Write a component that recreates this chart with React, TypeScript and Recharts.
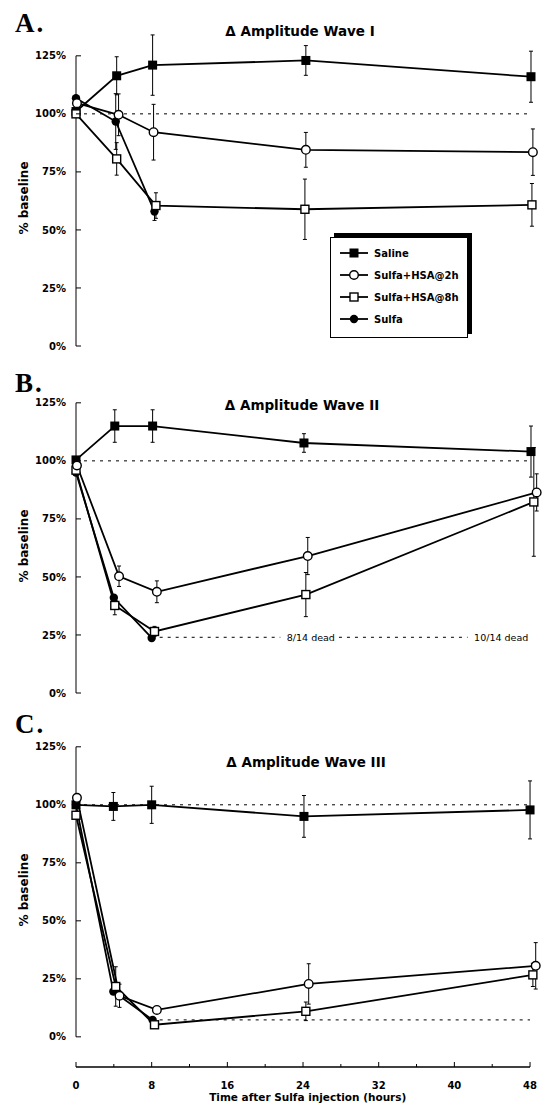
import React from 'react'
import { LineChart, Line, XAxis, YAxis, ErrorBar, ReferenceLine, Legend } from 'recharts'

// each point: [hours after injection, % of baseline, error]
type Pt = [number, number, number]

// A. wave I
const waveISaline: Pt[] = [[0, 101, 0], [4.3, 116.4, 8.2], [8.1, 121, 13], [24.3, 123, 6.4], [48.1, 116, 11]]
const waveIHsa2: Pt[] = [[0.1, 104.6, 0], [4.5, 99.6, 9], [8.2, 92.1, 12], [24.3, 84.5, 7.5], [48.3, 83.5, 10]]
const waveIHsa8: Pt[] = [[0, 100, 0], [4.3, 80.6, 7], [8.45, 60.5, 5.5], [24.2, 58.9, 13], [48.2, 60.8, 9.2]]
const waveISulfa: Pt[] = [[0, 106.7, 0], [4.2, 96.7, 12], [8.3, 57.9, 3.8]]

// B. wave II
const waveIISaline: Pt[] = [[0, 100.4, 0], [4.1, 115, 7], [8.1, 115, 7], [24.1, 107.7, 4], [48.1, 104, 11]]
const waveIIHsa2: Pt[] = [[0.1, 98, 0], [4.55, 50.3, 4.4], [8.55, 43.6, 4.7], [24.5, 59, 8], [48.7, 86.4, 8]]
const waveIIHsa8: Pt[] = [[0, 96, 0], [4.1, 37.7, 4], [8.3, 26.5, 2.2], [24.3, 42.4, 9.5], [48.4, 82.3, 23.4]]
const waveIISulfa: Pt[] = [[0, 95, 0], [4, 41, 0], [8, 23.7, 0]]

// C. wave III
const waveIIISaline: Pt[] = [[0, 100, 0], [3.95, 99.3, 6], [8, 100, 8], [24.1, 95, 9], [48, 97.8, 12.5]]
const waveIIIHsa2: Pt[] = [[0.1, 103, 0], [4.6, 17.7, 5], [8.55, 11.6, 0], [24.6, 22.8, 8.7], [48.6, 30.6, 10]]
const waveIIIHsa8: Pt[] = [[0, 95.5, 0], [4.2, 21.7, 8.5], [8.3, 5.2, 0], [24.3, 11, 4], [48.3, 26.7, 5]]
const waveIIISulfa: Pt[] = [[0, 100, 0], [3.95, 19.5, 0], [8.1, 7.3, 0]]

const Y_TICKS = [0, 25, 50, 75, 100, 125]
const TIME_TICKS = [0, 4, 8, 12, 16, 20, 24, 28, 32, 36, 40, 44, 48]
const DEAD_LEVEL_II = 24
const FLOOR_LEVEL_III = 7.3

const Y_TOP = 140
const X_MAX = 49
const FONT = '"DejaVu Sans", Arial, sans-serif'

type Kind = 'filledSquare' | 'openCircle' | 'openSquare' | 'filledCircle'

const LEGEND: { name: string; kind: Kind }[] = [
  { name: 'Saline', kind: 'filledSquare' },
  { name: 'Sulfa+HSA@2h', kind: 'openCircle' },
  { name: 'Sulfa+HSA@8h', kind: 'openSquare' },
  { name: 'Sulfa', kind: 'filledCircle' },
]

const toRows = (pts: Pt[]) => pts.map(([t, v, e]) => ({ t, v, e }))

function Marker({ kind, cx, cy }: { kind: Kind; cx: number; cy: number }) {
  switch (kind) {
    case 'filledSquare':
      return <rect x={cx - 4.5} y={cy - 4.5} width={9} height={9} fill="#000" />
    case 'openSquare':
      return <rect x={cx - 4} y={cy - 4} width={8} height={8} fill="#fff" stroke="#000" strokeWidth={1.4} />
    case 'openCircle':
      return <circle cx={cx} cy={cy} r={4.3} fill="#fff" stroke="#000" strokeWidth={1.4} />
    default:
      return <circle cx={cx} cy={cy} r={4.2} fill="#000" />
  }
}

// ticks on both axes point into the plot
function PctTick(props: any) {
  const { x, y, payload } = props
  return (
    <g>
      <line x1={x} x2={x + 5} y1={y} y2={y} stroke="#000" strokeWidth={1} />
      <text x={x - 10} y={y} dy={3.6} textAnchor="end" fontFamily={FONT} fontWeight={700} fontSize={10} fill="#000">
        {`${payload.value}%`}
      </text>
    </g>
  )
}

function TimeTick(props: any) {
  const { x, y, payload } = props
  const major = payload.value % 8 === 0
  return (
    <g>
      <line x1={x} x2={x} y1={y} y2={y - (major ? 5 : 3)} stroke="#000" strokeWidth={1} />
      {major && (
        <text x={x} y={y + 22} textAnchor="middle" fontFamily={FONT} fontWeight={700} fontSize={10} fill="#000">
          {payload.value}
        </text>
      )}
    </g>
  )
}

function LegendBox() {
  return (
    <div style={{
      width: 138, height: 101, boxSizing: 'border-box', border: '1px solid #000',
      boxShadow: '4px -4px 0 #000', background: '#fff', paddingTop: 4, paddingLeft: 8,
    }}>
      {LEGEND.map(item => (
        <div key={item.name} style={{ height: 22, display: 'flex', alignItems: 'center' }}>
          <svg width={30} height={12} style={{ marginRight: 5 }}>
            <line x1={1} x2={29} y1={6} y2={6} stroke="#000" strokeWidth={1.8} />
            <Marker kind={item.kind} cx={15} cy={6} />
          </svg>
          <span style={{ fontFamily: FONT, fontWeight: 700, fontSize: 10, color: '#000' }}>{item.name}</span>
        </div>
      ))}
    </div>
  )
}

const dashed = { stroke: '#000', strokeWidth: 1, strokeDasharray: '3 5', ifOverflow: 'visible' as const }

function Panel({ top, height, margin, floor, series, showTime, legend, extra }: {
  top: number
  height: number
  margin: { top: number; right: number; bottom: number; left: number }
  floor: number
  series: { pts: Pt[]; kind: Kind; name: string }[]
  showTime?: boolean
  legend?: boolean
  extra?: React.ReactNode
}) {
  return (
    <div style={{ position: 'absolute', left: 0, top }}>
      <LineChart width={545} height={height} margin={margin}>
        {showTime ? (
          <XAxis
            type="number" dataKey="t" domain={[0, X_MAX]} ticks={TIME_TICKS} interval={0}
            axisLine={false} tickLine={false} tickSize={0} tickMargin={0} tick={<TimeTick />} height={40}
            label={{ value: 'Time after Sulfa injection (hours)', position: 'insideBottom', offset: 6, fill: '#000', fontSize: 10.5, fontFamily: FONT, fontWeight: 700 }}
          />
        ) : (
          <XAxis type="number" dataKey="t" domain={[0, X_MAX]} hide />
        )}
        <YAxis
          type="number" domain={[floor, Y_TOP]} ticks={Y_TICKS} interval={0} width={76}
          axisLine={false} tickLine={false} tickSize={0} tickMargin={0} tick={<PctTick />}
        />
        <ReferenceLine segment={[{ x: 0, y: 0 }, { x: 0, y: 125 }]} stroke="#000" strokeWidth={1} ifOverflow="visible" />
        {showTime && (
          <ReferenceLine segment={[{ x: 0, y: floor }, { x: 48, y: floor }]} stroke="#000" strokeWidth={1.3} ifOverflow="visible" />
        )}
        <ReferenceLine segment={[{ x: 0, y: 100 }, { x: 48, y: 100 }]} {...dashed} />
        {extra}
        {series.map(s => (
          <Line
            key={s.name}
            data={toRows(s.pts)}
            dataKey="v"
            name={s.name}
            type="linear"
            stroke="#000"
            strokeWidth={1.8}
            isAnimationActive={false}
            activeDot={false}
            dot={(p: any) => <Marker key={p.index} kind={s.kind} cx={p.cx} cy={p.cy} />}
          >
            <ErrorBar dataKey="e" direction="y" width={2} stroke="#000" strokeWidth={1} />
          </Line>
        ))}
        {legend && (
          <Legend
            layout="vertical" align="center" verticalAlign="middle"
            content={() => <LegendBox />}
            wrapperStyle={{ position: 'absolute', left: 330, top: 237, width: 138, height: 101 }}
          />
        )}
      </LineChart>
    </div>
  )
}

const order = (sal: Pt[], h2: Pt[], h8: Pt[], su: Pt[]) => [
  { pts: su, kind: 'filledCircle' as Kind, name: 'Sulfa' },
  { pts: sal, kind: 'filledSquare' as Kind, name: 'Saline' },
  { pts: h8, kind: 'openSquare' as Kind, name: 'Sulfa+HSA@8h' },
  { pts: h2, kind: 'openCircle' as Kind, name: 'Sulfa+HSA@2h' },
]

const RIGHT = 5.5

export default function App() {
  const letter = { fontFamily: '"Liberation Serif", serif', fontWeight: 700, fontSize: 27, letterSpacing: 2 }
  const title = { fontFamily: FONT, fontWeight: 700, fontSize: 13.5 }
  const ylab = { fontFamily: FONT, fontWeight: 700, fontSize: 12 }
  return (
    <div style={{ position: 'absolute', left: 0, top: 0, width: 545, height: 1107, background: '#fff', overflow: 'hidden' }}>
      <Panel
        top={0} height={356} margin={{ top: 21, right: RIGHT, bottom: 10, left: 0 }} floor={0}
        series={order(waveISaline, waveIHsa2, waveIHsa8, waveISulfa)} legend
      />
      <Panel
        top={360} height={343} margin={{ top: 8, right: RIGHT, bottom: 10, left: 0 }} floor={0}
        series={order(waveIISaline, waveIIHsa2, waveIIHsa8, waveIISulfa)}
        extra={[
          <ReferenceLine key="d1" segment={[{ x: 8, y: DEAD_LEVEL_II }, { x: 21.6, y: DEAD_LEVEL_II }]} {...dashed}
            label={{ value: '8/14 dead', position: 'right', offset: 6.5, fill: '#000', fontSize: 9.5, fontFamily: FONT }} />,
          <ReferenceLine key="d2" segment={[{ x: 27.8, y: DEAD_LEVEL_II }, { x: 41.4, y: DEAD_LEVEL_II }]} {...dashed}
            label={{ value: '10/14 dead', position: 'right', offset: 6.5, fill: '#000', fontSize: 9.5, fontFamily: FONT }} />,
        ]}
      />
      <Panel
        top={700} height={407} margin={{ top: 12, right: RIGHT, bottom: 0, left: 0 }} floor={-13}
        series={order(waveIIISaline, waveIIIHsa2, waveIIIHsa8, waveIIISulfa)} showTime
        extra={<ReferenceLine segment={[{ x: 8, y: FLOOR_LEVEL_III }, { x: 48, y: FLOOR_LEVEL_III }]} {...dashed} />}
      />
      <svg width={545} height={1107} style={{ position: 'absolute', left: 0, top: 0, pointerEvents: 'none' }}>
        <text x={15} y={32} {...letter}>A.</text>
        <text x={15} y={392} {...letter}>B.</text>
        <text x={15} y={733} {...letter}>C.</text>
        <text x={300} y={36} textAnchor="middle" {...title}>Δ Amplitude Wave I</text>
        <text x={302} y={410} textAnchor="middle" {...title}>Δ Amplitude Wave II</text>
        <text x={306} y={767} textAnchor="middle" {...title}>Δ Amplitude Wave III</text>
        <text x={28} y={198} textAnchor="middle" transform="rotate(-90 28 198)" {...ylab}>% baseline</text>
        <text x={28} y={546} textAnchor="middle" transform="rotate(-90 28 546)" {...ylab}>% baseline</text>
        <text x={28} y={890} textAnchor="middle" transform="rotate(-90 28 890)" {...ylab}>% baseline</text>
      </svg>
    </div>
  )
}
